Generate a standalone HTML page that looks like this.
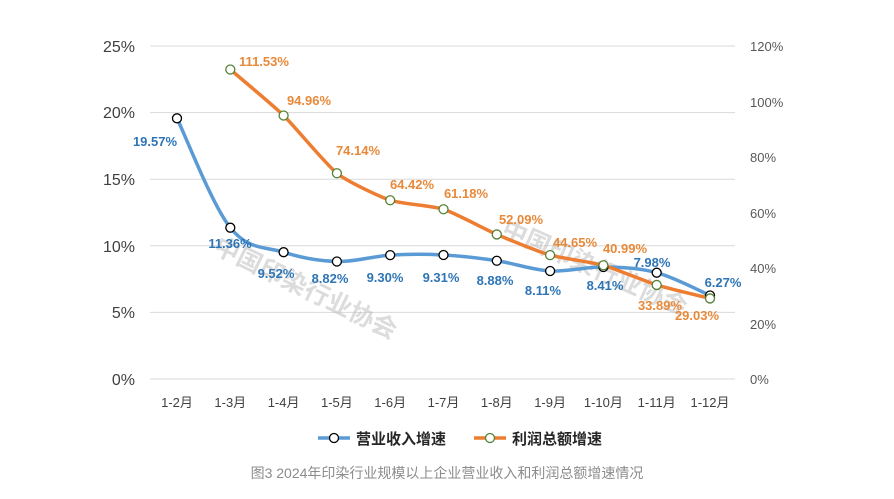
<!DOCTYPE html>
<html><head><meta charset="utf-8"><style>
html,body{margin:0;padding:0;background:#fff;}
svg text{font-family:"Liberation Sans","Noto Sans CJK SC",sans-serif;}
</style></head><body>
<svg id="c" width="894" height="494" xmlns="http://www.w3.org/2000/svg">
<g stroke="#d9d9d9" stroke-width="1">
<line x1="150" x2="735" y1="46" y2="46"/><line x1="150" x2="735" y1="112.6" y2="112.6"/>
<line x1="150" x2="735" y1="179.2" y2="179.2"/><line x1="150" x2="735" y1="245.8" y2="245.8"/>
<line x1="150" x2="735" y1="312.4" y2="312.4"/><line x1="150" x2="735" y1="379" y2="379"/>
</g>
<g font-size="16" fill="#404040" text-anchor="end">
<text x="135" y="52">25%</text><text x="135" y="118">20%</text><text x="135" y="185">15%</text>
<text x="135" y="252">10%</text><text x="135" y="318">5%</text><text x="135" y="385">0%</text>
</g>
<g font-size="13" fill="#595959">
<text x="750" y="51">120%</text><text x="750" y="107">100%</text><text x="750" y="162">80%</text>
<text x="750" y="218">60%</text><text x="750" y="273">40%</text><text x="750" y="329">20%</text><text x="750" y="384">0%</text>
</g>
<g id="xl" font-size="13" fill="#404040" text-anchor="middle"></g>
<text font-size="25" font-weight="bold" fill="#bbb" opacity="0.5" transform="translate(212,252) rotate(26)" font-family="Noto Sans CJK SC">中国印染行业协会</text>
<text font-size="25" font-weight="bold" fill="#bbb" opacity="0.5" transform="translate(500,235) rotate(24)" font-family="Noto Sans CJK SC">中国印染行业协会</text>
<path id="pb" fill="none" stroke="#5b9bd5" stroke-width="3.5" stroke-linecap="round"/>
<path id="po" fill="none" stroke="#ed7d31" stroke-width="3.5" stroke-linecap="round"/>
<g id="mk"></g>
<g id="lb" font-size="13" font-weight="bold" text-anchor="middle"></g>
<line x1="318" x2="350" y1="438" y2="438" stroke="#5b9bd5" stroke-width="3.5"/>
<circle cx="334" cy="438" r="4.5" fill="#fff" stroke="#000" stroke-width="1.3"/>
<text x="356" y="444" font-size="15" font-weight="bold" fill="#262626">营业收入增速</text>
<line x1="474" x2="506" y1="438" y2="438" stroke="#ed7d31" stroke-width="3.5"/>
<circle cx="490" cy="438" r="4.5" fill="#fff" stroke="#548235" stroke-width="1.3"/>
<text x="512" y="444" font-size="15" font-weight="bold" fill="#262626">利润总额增速</text>
<text x="447" y="478" font-size="14" fill="#8c8c8c" text-anchor="middle">图3 2024年印染行业规模以上企业营业收入和利润总额增速情况</text>
</svg>
<script>
var X=[];for(var i=0;i<11;i++)X.push(177+53.3*i);
var B=[19.57,11.36,9.52,8.82,9.30,9.31,8.88,8.11,8.41,7.98,6.27];
var O=[null,111.53,94.96,74.14,64.42,61.18,52.09,44.65,40.99,33.89,29.03];
var ns="http://www.w3.org/2000/svg";
function el(t,a,p,tx){var e=document.createElementNS(ns,t);for(var k in a)e.setAttribute(k,a[k]);if(tx)e.textContent=tx;document.getElementById(p).appendChild(e);}
var mon=["1-2月","1-3月","1-4月","1-5月","1-6月","1-7月","1-8月","1-9月","1-10月","1-11月","1-12月"];
for(var i=0;i<11;i++)el("text",{x:X[i],y:407},"xl",mon[i]);
function path(pts,t){var d="M"+pts[0][0]+","+pts[0][1];for(var i=0;i<pts.length-1;i++){var p0=pts[i-1]||pts[i],p1=pts[i],p2=pts[i+1],p3=pts[i+2]||p2;
d+=" C"+(p1[0]+(p2[0]-p0[0])*t)+","+(p1[1]+(p2[1]-p0[1])*t)+" "+(p2[0]-(p3[0]-p1[0])*t)+","+(p2[1]-(p3[1]-p1[1])*t)+" "+p2[0]+","+p2[1];}return d;}
var pb=B.map(function(v,i){return [X[i],379-v*13.32];});
var po=[];for(var i=1;i<11;i++)po.push([X[i],379-O[i]*2.775]);
document.getElementById("pb").setAttribute("d",path(pb,0.17));
document.getElementById("po").setAttribute("d",path(po,0.1));
pb.forEach(function(p){el("circle",{cx:p[0],cy:p[1],r:4.5,fill:"#fff",stroke:"#000","stroke-width":1.3},"mk");});
po.forEach(function(p){el("circle",{cx:p[0],cy:p[1],r:4.5,fill:"#fff",stroke:"#548235","stroke-width":1.3},"mk");});
var bl=[[155,146],[230,248],[276,278],[330,283],[385,282],[441,282],[495,285],[543,295],[605,290],[652,267],[723,287]];
var ol=[[264,66],[309,105],[358,155],[412,189],[466,198],[521,224],[575,247],[625,253],[660,310],[697,320]];
bl.forEach(function(p,i){el("text",{x:p[0],y:p[1],fill:"#2e75b6"},"lb",B[i].toFixed(2)+"%");});
ol.forEach(function(p,i){el("text",{x:p[0],y:p[1],fill:"#e8893a"},"lb",O[i+1].toFixed(2)+"%");});
</script>
</body></html>
